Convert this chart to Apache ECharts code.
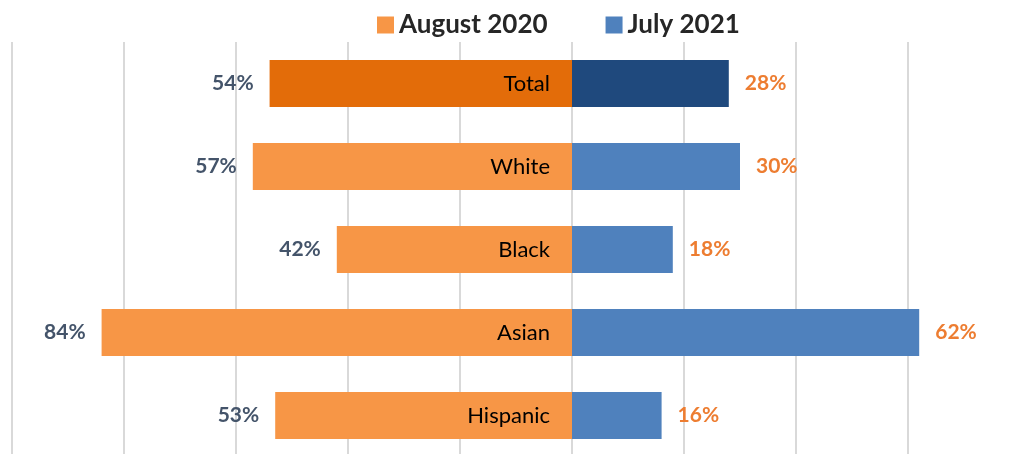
<!DOCTYPE html>
<html>
<head>
<meta charset="utf-8">
<script src="https://cdn.jsdelivr.net/npm/echarts@6/dist/echarts.min.js"></script>
<style>
html,body{margin:0;padding:0;background:#fff;}
#c{width:1013px;height:454px;}
</style>
</head>
<body>
<div id="c"></div>
<script>
const categories = ['Total', 'White', 'Black', 'Asian', 'Hispanic'];
const august2020 = [54, 57, 42, 84, 53];
const july2021 = [28, 30, 18, 62, 16];
const seriesNames = ['August 2020', 'July 2021'];

const FONT = 'Lato, "Open Sans", sans-serif';
const augColor = '#F79646', augTotal = '#E36C09';
const julColor = '#4F81BD', julTotal = '#1F497D';

const chart = echarts.init(document.getElementById('c'), null, {renderer: 'canvas'});
chart.setOption({
  animation: false,
  textStyle: {fontFamily: FONT},
  legend: {
    top: 7, left: 372,
    itemWidth: 17, itemHeight: 17, itemGap: 58,
    icon: 'rect',
    textStyle: {fontSize: 26, fontWeight: 'bold', color: '#262626', fontFamily: FONT},
    data: seriesNames
  },
  grid: {left: 12, width: 1008, top: 42, height: 415, containLabel: false, outerBoundsMode: 'none'},
  xAxis: {
    type: 'value', min: -100, max: 80, interval: 20,
    axisLabel: {show: false}, axisLine: {show: false}, axisTick: {show: false},
    splitLine: {show: true, lineStyle: {color: '#D9D9D9', width: 2}}
  },
  yAxis: {
    type: 'category', data: categories, inverse: true, z: 10,
    offset: -560,
    axisLine: {show: false, onZero: false}, axisTick: {show: false},
    axisLabel: {margin: 22, fontSize: 22, color: '#000', fontFamily: FONT}
  },
  series: [
    {
      name: seriesNames[0], type: 'bar', stack: 'a', barWidth: 47,
      itemStyle: {color: augColor},
      data: august2020.map((v, i) => ({value: -v, itemStyle: {color: i === 0 ? augTotal : augColor}})),
      label: {show: true, position: 'left', distance: 16, fontSize: 21, fontWeight: 'bold', color: '#44546A', fontFamily: FONT,
        formatter: p => Math.abs(p.value) + '%'}
    },
    {
      name: seriesNames[1], type: 'bar', stack: 'a', barWidth: 47,
      itemStyle: {color: julColor},
      data: july2021.map((v, i) => ({value: v, itemStyle: {color: i === 0 ? julTotal : julColor}})),
      label: {show: true, position: 'right', distance: 16, fontSize: 21, fontWeight: 'bold', color: '#ED7D31', fontFamily: FONT,
        formatter: p => p.value + '%'}
    }
  ]
});
</script>
</body>
</html>
